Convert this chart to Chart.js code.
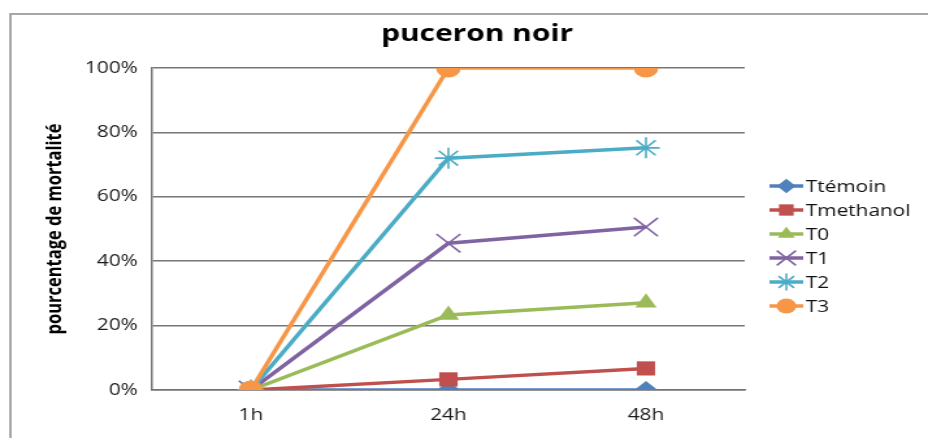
<!DOCTYPE html>
<html lang="fr">
<head>
<meta charset="UTF-8" />
<title>puceron noir</title>
<script src="https://cdn.jsdelivr.net/npm/chart.js"></script>
<style>
  html, body { margin: 0; padding: 0; background: #fff; }
  #chart { display: block; }
</style>
</head>
<body>
<!-- canvas is drawn narrower and stretched to the page width -->
<canvas id="chart" width="714" height="438" style="width:928px;height:438px"></canvas>
<script>
  const heures = ['1h', '24h', '48h'];
  const series = ['Ttémoin', 'Tmethanol', 'T0', 'T1', 'T2', 'T3'];
  const ttemoin = [0, 0, 0];
  const tmethanol = [0, 3.3, 6.7];
  const t0 = [0, 23.3, 27.1];
  const t1 = [0, 45.6, 50.6];
  const t2 = [0, 72, 75.2];
  const t3 = [0, 100, 100];
  const yTicks = [0, 20, 40, 60, 80, 100];

  const couleurs = ['#4F81BD', '#C0504D', '#9BBB59', '#8064A2', '#4BACC6', '#F79646'];
  const marqueurs = ['rectRot', 'rect', 'triangle', 'crossRot', 'star', 'circle'];
  const rayons = [9, 10, 9.5, 13, 10.5, 9.5];
  const valeurs = [ttemoin, tmethanol, t0, t1, t2, t3];

  const FONT = '"Open Sans", "Liberation Sans", sans-serif';

  const datasets = series.map((nom, i) => {
    const croix = marqueurs[i] === 'crossRot' || marqueurs[i] === 'star';
    return {
      label: nom,
      data: valeurs[i],
      borderColor: couleurs[i],
      backgroundColor: couleurs[i],
      borderWidth: 3.5,
      pointStyle: marqueurs[i],
      pointRadius: rayons[i],
      pointBorderWidth: croix ? 1.6 : 0,
      pointBorderColor: couleurs[i],
      pointBackgroundColor: couleurs[i],
      tension: 0,
      order: series.length - i   // last series on top
    };
  });

  // frame, title and the Excel-like legend (line + marker)
  const decor = {
    id: 'decor',
    afterDraw(chart) {
      const ctx = chart.ctx;
      ctx.save();
      ctx.strokeStyle = '#a6a6a6';
      ctx.lineWidth = 2;
      ctx.beginPath();
      ctx.moveTo(8, 440);
      ctx.lineTo(8, 14);
      ctx.lineTo(720, 14);
      ctx.stroke();

      ctx.fillStyle = '#000';
      ctx.font = 'bold 23px ' + FONT;
      ctx.textAlign = 'center';
      ctx.textBaseline = 'middle';
      ctx.fillText('puceron noir', 367, 34);

      ctx.font = '16px ' + FONT;
      ctx.textAlign = 'left';
      chart.data.datasets.forEach((ds, i) => {
        const y = 186 + i * 24;
        ctx.strokeStyle = ds.borderColor;
        ctx.lineWidth = 3.5;
        ctx.beginPath();
        ctx.moveTo(592, y);
        ctx.lineTo(618, y);
        ctx.stroke();
        ctx.fillStyle = ds.backgroundColor;
        ctx.strokeStyle = ds.borderColor;
        ctx.lineWidth = ds.pointBorderWidth || 1;
        Chart.helpers.drawPoint(ctx, {
          pointStyle: ds.pointStyle,
          radius: ds.pointRadius * 0.8,
          rotation: 0,
          borderWidth: ds.pointBorderWidth
        }, 605, y);
        ctx.fillStyle = '#111';
        ctx.fillText(ds.label, 620, y + 1);
      });
      ctx.restore();
    }
  };

  new Chart(document.getElementById('chart'), {
    type: 'line',
    data: { labels: heures, datasets },
    options: {
      responsive: false,
      animation: false,
      devicePixelRatio: 1,
      layout: { padding: { left: 10, right: 141, top: 68, bottom: 0 } },
      plugins: {
        legend: { display: false },
        title: { display: false },
        tooltip: { enabled: false }
      },
      scales: {
        x: {
          offset: true,
          grid: { display: false, drawTicks: false },
          border: { display: true, color: '#737373', width: 1.5 },
          ticks: { color: '#1a1a1a', padding: 16, font: { family: FONT, size: 16 } },
          afterFit(scale) { scale.height = 48; }
        },
        y: {
          min: 0,
          max: 100,
          afterBuildTicks(scale) { scale.ticks = yTicks.map(v => ({ value: v })); },
          grid: { color: '#777777', lineWidth: 1.5, drawTicks: false },
          border: { display: true, color: '#737373', width: 1.5 },
          ticks: {
            color: '#1a1a1a',
            padding: 11,
            font: { family: FONT, size: 16 },
            callback: v => v + '%'
          },
          title: {
            display: true,
            text: 'pourcentage de mortalité',
            color: '#000',
            font: { family: FONT, size: 16.5, weight: 'bold' },
            padding: { top: 22, bottom: 0 }
          },
          afterFit(scale) { scale.width = 107; }
        }
      }
    },
    plugins: [decor]
  });
</script>
</body>
</html>
